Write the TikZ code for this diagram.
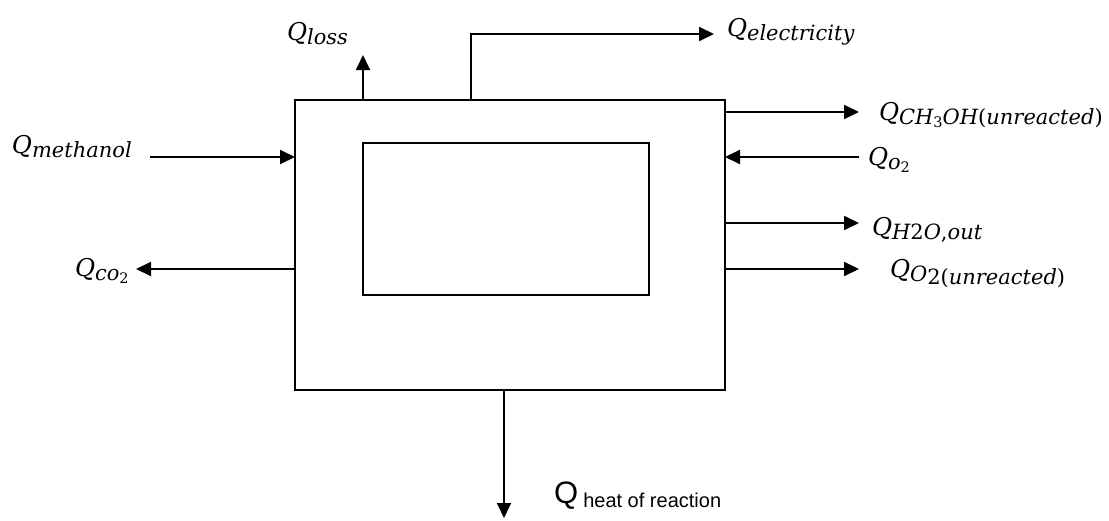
\documentclass[tikz,border=0pt]{standalone}
\usepackage{fontspec}
\newfontfamily\arialfont{Liberation Sans}
\newfontfamily\mfont{DejaVu Serif}
\newcommand\Qsub[1]{{\mfont\fontsize{24.5}{28}\selectfont\itshape Q}\raisebox{-4.5pt}{\mfont\fontsize{21}{24}\selectfont\itshape #1}}
\newcommand\upc[1]{{\upshape #1}}
\newcommand\ssub[1]{\raisebox{-3pt}{\fontsize{14.5}{16}\selectfont\upshape #1}}
\usetikzlibrary{arrows.meta}
\begin{document}
\begin{tikzpicture}[x=1pt,y=-1pt,line width=1.9pt,
  arr/.style={-{Triangle[length=15pt,width=14pt]}},
  boxst/.style={draw,rectangle,inner sep=0pt,outer sep=0pt},
  lab/.style={inner sep=0pt,outer sep=0pt,anchor=base west}]
\useasboundingbox (0,0) rectangle (1109,520);
\node[boxst,minimum width=430pt,minimum height=290pt] (outer) at (510,245) {};
\node[boxst,minimum width=286pt,minimum height=152pt] (inner) at (506,219) {};
% labels
\node[lab] (qloss) at (287,40) {\Qsub{loss}};
\node[lab] (qelec) at (727,36) {\Qsub{electricity}};
\node[lab] (qch3oh) at (879,120) {\Qsub{CH\ssub{3}OH\upc{(}unreacted\upc{)}}};
\node[lab] (qo2) at (868,165) {\Qsub{o\ssub{2}}};
\node[lab] (qh2o) at (872,235) {\Qsub{H\upc{2}O\upc{,}out}};
\node[lab] (qo2un) at (890,277) {\Qsub{O\raisebox{-3pt}{\upc{2(}unreacted\upc{)}}}};
\node[lab] (qmeth) at (12,153) {\Qsub{methanol}};
\node[lab] (qco2) at (75,276) {\Qsub{co\ssub{2}}};
\node[inner sep=0pt,outer sep=0pt,anchor=base west] (qheat) at (554,503)
  {\arialfont\fontsize{31}{36}\selectfont Q\,\raisebox{-4pt}{\fontsize{20}{24}\selectfont heat of reaction}};
% free ends
\coordinate (lossend) at (363,55);
\coordinate (elecbend) at (471,34);
\coordinate (elecend) at (714,34);
\coordinate (ch3ohend) at (859,112);
\coordinate (o2start) at (859,157);
\coordinate (h2oend) at (859,223);
\coordinate (o2unend) at (859,269);
\coordinate (methstart) at (150,157);
\coordinate (co2end) at (136,269);
\coordinate (heatend) at (504,518);
% connectors
\draw[arr] (outer.north -| lossend) -- (lossend);
\draw[arr] (outer.north -| elecbend) -- (elecbend) -- (elecend);
\draw[arr] (outer.east |- ch3ohend) -- (ch3ohend);
\draw[arr] (o2start) -- (outer.east |- o2start);
\draw[arr] (outer.east |- h2oend) -- (h2oend);
\draw[arr] (outer.east |- o2unend) -- (o2unend);
\draw[arr] (methstart) -- (outer.west |- methstart);
\draw[arr] (outer.west |- co2end) -- (co2end);
\draw[arr] (outer.south -| heatend) -- (heatend);
\end{tikzpicture}
\end{document}
